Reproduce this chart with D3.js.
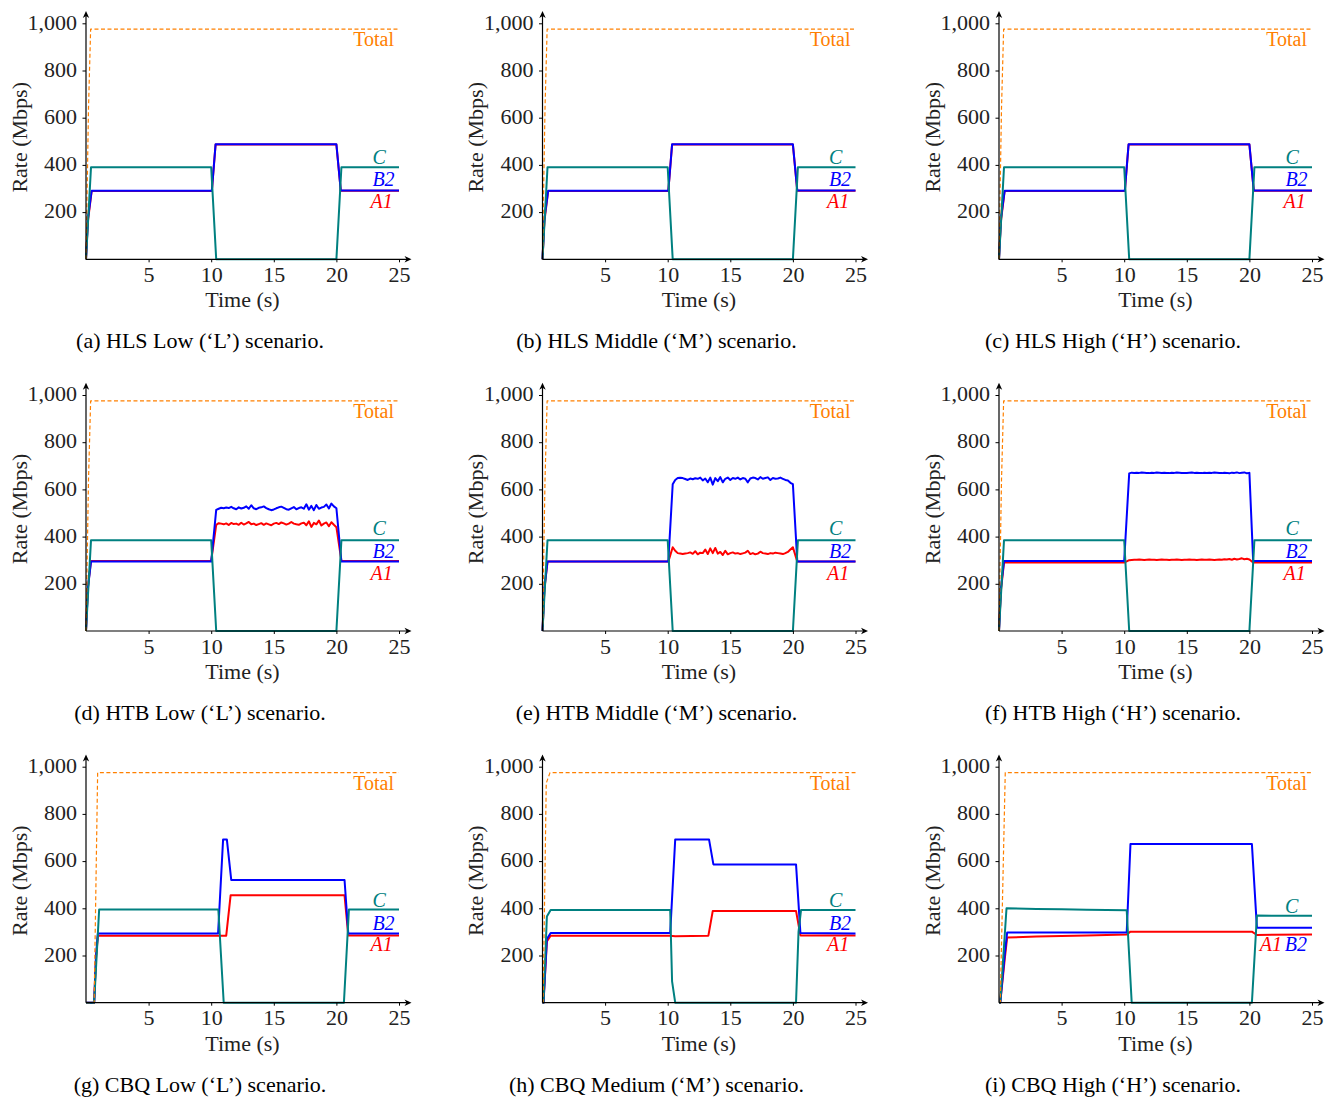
<!DOCTYPE html>
<html>
<head>
<meta charset="utf-8">
<script src="https://cdn.jsdelivr.net/npm/d3@7"></script>
<style>
  body { margin: 0; background: #fff; }
</style>
</head>
<body>
<svg id="fig" width="1336" height="1099"></svg>
<script>
const FONT = "'Liberation Serif', 'DejaVu Serif', serif";

// sample times for the noisy HTB segments
const noisyTimes = [10.4,10.6,10.8,11.0,11.2,11.4,11.6,11.8,12.0,12.2,12.4,12.6,12.8,13.0,13.2,13.4,13.6,13.8,14.0,14.2,
  14.4,14.6,14.8,15.0,15.2,15.4,15.6,15.8,16.0,16.2,16.4,16.6,16.8,17.0,17.2,17.4,17.6,17.8,18.0,18.2,
  18.4,18.6,18.8,19.0,19.2,19.4,19.6,19.8,20.0];

const xTicks = [5, 10, 15, 20, 25];
const yTicks = [200, 400, 600, 800, 1000];

// HLS (row 1) - [time, Mbps]
const hlsTotal = [[0,0],[0.2,640],[0.37,975],[25,975]];
const hlsC  = [[0,0],[0.4,390],[10.0,390],[10.4,0],[20.0,0],[20.4,390],[25,390]];
const hlsB2 = [[0,0],[0.15,170],[0.45,290],[10.05,290],[10.35,487],[20.0,487],[20.35,291],[25,291]];
const hlsA1 = [[0,0],[0.15,160],[0.45,289],[10.05,289],[10.35,486],[20.0,486],[20.35,290],[25,290]];

// HTB (row 2)
const htbTotal = [[0,0],[0.2,640],[0.37,975],[25,975]];
const htbC = [[0,0],[0.4,385],[10.0,385],[10.4,0],[20.0,0],[20.4,385],[25,385]];

const dB2head = [[0,0],[0.15,180],[0.4,294],[10.0,294]];
const dB2noise = [513,518,522,520,523,521,526,520,516,524,519,522,528,518,533,520,516,522,524,528,
  521,516,512,515,520,524,527,522,516,514,520,525,516,521,524,518,537,514,530,512,
  534,518,523,526,536,519,540,528,520];
const dB2tail = [[20.4,294],[25,294]];
const dA1head = [[0,0],[0.15,185],[0.4,297],[10.0,297]];
const dA1noise = [450,457,455,452,456,449,458,453,455,450,459,451,456,462,452,455,449,453,457,450,
  456,452,448,455,458,453,460,456,451,455,462,455,452,450,456,459,448,465,441,458,
  452,468,447,455,460,444,461,450,440];
const dA1tail = [[20.4,297],[25,297]];

const eB2head = [[0,0],[0.15,180],[0.4,295],[10.05,295]];
const eB2noise = [622,640,648,649,648,644,640,646,643,647,645,650,638,646,630,650,620,648,635,652,
  630,645,650,640,648,645,650,642,648,645,630,646,650,648,642,652,645,648,651,640,
  648,645,646,650,645,640,638,628,622];
const eB2tail = [[20.35,295],[25,295]];
const eA1head = [[0,0],[0.15,175],[0.4,294],[10.05,294]];
const eA1noise = [355,340,330,328,326,328,330,333,327,338,325,332,330,345,326,350,330,352,328,335,
  322,340,325,330,333,328,330,326,329,332,340,326,330,325,328,336,330,328,326,330,
  328,332,330,328,326,330,335,345,355];
const eA1tail = [[20.35,294],[25,294]];

const fB2head = [[0,0],[0.15,180],[0.4,297],[10.0,297]];
const fB2noise = [668,671,670,671,670,672,671,670,669,671,670,672,671,670,671,670,669,671,670,672,
  671,670,669,670,671,672,670,671,670,669,671,670,671,670,672,671,670,669,671,670,
  668,671,670,672,669,671,672,668,670];
const fB2tail = [[20.3,297],[25,297]];
const fA1head = [[0,0],[0.15,170],[0.4,290],[10.0,290]];
const fA1noise = [300,301,302,302,303,302,301,302,303,302,302,301,302,303,302,302,301,302,302,303,
  302,301,302,302,303,302,302,301,302,303,302,302,303,302,301,302,303,302,304,303,
  305,302,306,303,305,308,304,306,303];
const fA1tail = [[20.3,290],[25,290]];

// CBQ (row 3)
const gTotal = [[0,0],[0.65,0],[0.93,975],[25,975]];
const gC  = [[0,0],[0.65,0],[1.05,395],[10.57,395],[11.0,0],[20.6,0],[21.0,395],[25,395]];
const gB2 = [[0,0],[0.65,0],[0.8,200],[0.95,293],[10.55,293],[10.95,692],[11.25,692],[11.6,520],[20.65,520],[20.95,293],[25,293]];
const gA1 = [[0,0],[0.65,0],[0.8,190],[0.95,284],[11.2,284],[11.55,455],[20.65,455],[20.95,285],[25,285]];

const hTotal = [[0,0],[0.05,0],[0.3,930],[0.6,975],[25,975]];
const hC  = [[0,0],[0.08,0],[0.35,365],[0.65,393],[10.2,393],[10.35,90],[10.6,0],[20.25,0],[20.45,300],[20.65,393],[25,393]];
const hB2 = [[0,0],[0.08,0],[0.35,270],[0.65,295],[10.2,295],[10.6,692],[13.3,692],[13.65,586],[20.25,586],[20.6,295],[25,293]];
const hA1 = [[0,0],[0.08,0],[0.35,260],[0.65,284],[10.2,284],[10.6,282],[13.25,284],[13.6,389],[20.25,389],[20.6,285],[25,285]];

const iTotal = [[0,0],[0.1,0],[0.5,975],[25,975]];
const iC  = [[0,0],[0.1,0],[0.6,400],[3,397],[5,396],[7,394],[10.2,392],[10.6,0],[20.2,0],[20.6,369],[25,368]];
const iB2 = [[0,0],[0.1,0],[0.45,200],[0.65,297],[10.2,297],[10.5,672],[20.2,672],[20.6,318],[25,318]];
const iA1 = [[0,0],[0.1,0],[0.45,180],[0.65,276],[3,280],[5,283],[7,285],[10.2,289],[10.5,301],[20.2,301],[20.6,287],[25,289]];

const captions = [
  "(a) HLS Low (‘L’) scenario.", "(b) HLS Middle (‘M’) scenario.", "(c) HLS High (‘H’) scenario.",
  "(d) HTB Low (‘L’) scenario.", "(e) HTB Middle (‘M’) scenario.", "(f) HTB High (‘H’) scenario.",
  "(g) CBQ Low (‘L’) scenario.", "(h) CBQ Medium (‘M’) scenario.", "(i) CBQ High (‘H’) scenario."
];

// join head + noisy samples + tail
const withNoise = (head, vals, tail) => head.concat(noisyTimes.map((t, i) => [t, vals[i]]), tail);

const seriesByPanel = [
  {Total: hlsTotal, C: hlsC, B2: hlsB2, A1: hlsA1},
  {Total: hlsTotal, C: hlsC, B2: hlsB2, A1: hlsA1},
  {Total: hlsTotal, C: hlsC, B2: hlsB2, A1: hlsA1},
  {Total: htbTotal, C: htbC, B2: withNoise(dB2head, dB2noise, dB2tail), A1: withNoise(dA1head, dA1noise, dA1tail)},
  {Total: htbTotal, C: htbC, B2: withNoise(eB2head, eB2noise, eB2tail), A1: withNoise(eA1head, eA1noise, eA1tail)},
  {Total: htbTotal, C: htbC, B2: withNoise(fB2head, fB2noise, fB2tail), A1: withNoise(fA1head, fA1noise, fA1tail)},
  {Total: gTotal, C: gC, B2: gB2, A1: gA1},
  {Total: hTotal, C: hC, B2: hB2, A1: hA1},
  {Total: iTotal, C: iC, B2: iB2, A1: iA1}
];

// layout
const colX = [86, 542.5, 999];
const rowY = [259.3, 631, 1002.7];
const plotW = 313, plotH = 236;

const colors = {A1: "#ff0000", B2: "#0000ff", C: "#008080", Total: "#ff8000"};
const order = ["A1", "B2", "C", "Total"];

// label anchors in data units (t, Mbps), text-anchor end
const stdLabels = [
  {k: "Total", t: 24.6, v: 903, italic: false, text: "Total"},
  {k: "C", t: 23.95, v: 405, italic: true, text: "C"},
  {k: "B2", t: 24.65, v: 310, italic: true, text: "B2"},
  {k: "A1", t: 24.5, v: 218, italic: true, text: "A1"}
];
const iLabels = [
  {k: "Total", t: 24.6, v: 903, italic: false, text: "Total"},
  {k: "C", t: 23.9, v: 380, italic: true, text: "C"},
  {k: "A1", t: 22.6, v: 219, italic: true, text: "A1"},
  {k: "B2", t: 24.6, v: 219, italic: true, text: "B2"}
];

const svg = d3.select("#fig");

seriesByPanel.forEach((series, idx) => {
  const ox = colX[idx % 3], oy = rowY[Math.floor(idx / 3)];
  const x = d3.scaleLinear().domain([0, 25]).range([ox, ox + plotW]);
  const y = d3.scaleLinear().domain([0, 1000]).range([oy, oy - plotH]);
  const g = svg.append("g");

  const line = d3.line().x(d => x(d[0])).y(d => y(d[1]));

  order.forEach(k => {
    g.append("path")
      .datum(series[k])
      .attr("fill", "none")
      .attr("stroke", colors[k])
      .attr("stroke-width", k === "Total" ? 1.2 : 2)
      .attr("stroke-dasharray", k === "Total" ? "4,2.5" : null)
      .attr("stroke-linejoin", "round")
      .attr("d", line);
  });

  // axes
  const yAx = g.append("g")
    .attr("transform", `translate(${ox},0)`)
    .call(d3.axisLeft(y).tickValues(yTicks).tickSize(3.5).tickPadding(5.5).tickFormat(d3.format(",")));
  const xAx = g.append("g")
    .attr("transform", `translate(0,${oy})`)
    .call(d3.axisBottom(x).tickValues(xTicks).tickSize(3).tickPadding(4));
  [yAx, xAx].forEach(a => {
    a.attr("font-family", FONT).attr("font-size", 22);
    a.select(".domain").remove();
    a.selectAll("text").attr("fill", "#222");
    a.selectAll("line").attr("stroke", "#000");
  });
  yAx.selectAll("text").attr("dy", "0.26em");

  // axis lines with arrows
  const xEnd = x(26), yEnd = y(1052);
  g.append("line").attr("x1", ox).attr("y1", oy).attr("x2", xEnd - 3).attr("y2", oy)
    .attr("stroke", "#000").attr("stroke-width", 1.2);
  g.append("line").attr("x1", ox).attr("y1", oy).attr("x2", ox).attr("y2", yEnd + 3)
    .attr("stroke", "#000").attr("stroke-width", 1.2);
  g.append("path")
    .attr("d", `M${xEnd},${oy} L${xEnd - 7},${oy - 3.2} L${xEnd - 5},${oy} L${xEnd - 7},${oy + 3.2} Z`)
    .attr("fill", "#000");
  g.append("path")
    .attr("d", `M${ox},${yEnd} L${ox - 3.2},${yEnd + 7} L${ox},${yEnd + 5} L${ox + 3.2},${yEnd + 7} Z`)
    .attr("fill", "#000");

  // axis titles
  g.append("text")
    .attr("x", x(12.5)).attr("y", oy + 48)
    .attr("text-anchor", "middle").attr("font-family", FONT).attr("font-size", 22).attr("fill", "#222")
    .text("Time (s)");
  g.append("text")
    .attr("transform", `translate(${ox - 59.5},${oy - 122}) rotate(-90)`)
    .attr("text-anchor", "middle").attr("font-family", FONT).attr("font-size", 22).attr("fill", "#222")
    .text("Rate (Mbps)");

  // line labels
  (idx === 8 ? iLabels : stdLabels).forEach(l => {
    g.append("text")
      .attr("x", x(l.t)).attr("y", y(l.v))
      .attr("text-anchor", "end")
      .attr("font-family", FONT)
      .attr("font-size", 20)
      .attr("font-style", l.italic ? "italic" : null)
      .attr("fill", colors[l.k])
      .text(l.text);
  });

  // caption
  g.append("text")
    .attr("x", ox + 114).attr("y", oy + 89)
    .attr("text-anchor", "middle").attr("font-family", FONT).attr("font-size", 22).attr("fill", "#000")
    .text(captions[idx]);
});
</script>
</body>
</html>
